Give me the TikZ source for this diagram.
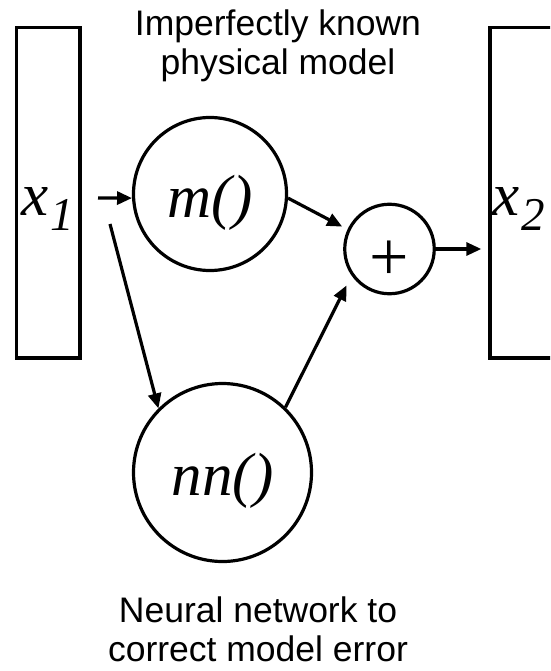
\documentclass[tikz,border=0pt]{standalone}
\usepackage{fontspec}
\setmainfont{Liberation Sans}
\newfontfamily\serifit{Liberation Serif}
\usetikzlibrary{arrows.meta}

\tikzset{
    statebox/.style={draw=black, line width=3.4pt, minimum width=63.5pt, minimum height=330.5pt, inner sep=0pt},
    opcircle/.style={circle, draw=black, line width=3.2pt, inner sep=0pt},
    flow/.style={line width=3.2pt, -{Triangle[length=15pt,width=13pt]}},
    caption/.style={align=center, inner sep=0pt, font=\fontsize{35.5}{39}\selectfont},
    vecname/.style={anchor=base west, inner sep=0pt, font=\serifit\itshape\fontsize{61}{61}\selectfont}
}

\newcommand{\fnlabel}[2]{\raisebox{#1}[0pt][0pt]{\serifit\itshape\fontsize{61}{61}\selectfont #2}}
\newcommand{\subidx}[1]{\raisebox{-15pt}{\fontsize{47}{47}\selectfont #1}}

\begin{document}
\begin{tikzpicture}[x=1pt,y=-1pt]
\clip (0,0) rectangle (550,671);

% input and output state
\node[statebox] (x1) at (48.25,192.75) {};
\node[statebox] (x2) at (521.75,192.75) {};
\node[vecname] (x1lbl) at (21,215) {x\hspace{2pt}\subidx{1}};
\node[vecname] (x2lbl) at (492,215) {x\hspace{2pt}\subidx{2}};

% model, network and sum
\node[opcircle, minimum size=153pt] (m) at (210,194) {\fnlabel{-23pt}{m()}};
\node[opcircle, minimum size=178pt] (nn) at (222.5,472.5) {\fnlabel{-23pt}{nn()}};
\node[opcircle, minimum size=89.5pt] (plus) at (389.5,249)
    {\raisebox{-31pt}[0pt][0pt]{\serifit\fontsize{70}{70}\selectfont +}};

\node[caption] (toptxt) at (278,45.5) {Imperfectly known\\physical model};
\node[caption] (bottxt) at (258,629) {Neural network to\\correct model error};

% connectors
\coordinate (in1) at (98,198);
\coordinate (in2) at (110,224);
\draw[flow] (in1) -- (m.183);
\draw[flow] (in2) -- (nn.135);
\draw[flow, shorten >=6pt] (m.-3) -- (plus.155);
\draw[flow, shorten >=11pt] (nn.46) -- (plus.215);
\draw[flow, shorten >=7pt] (plus.east) -- (plus.east -| x2.west);
\end{tikzpicture}
\end{document}
